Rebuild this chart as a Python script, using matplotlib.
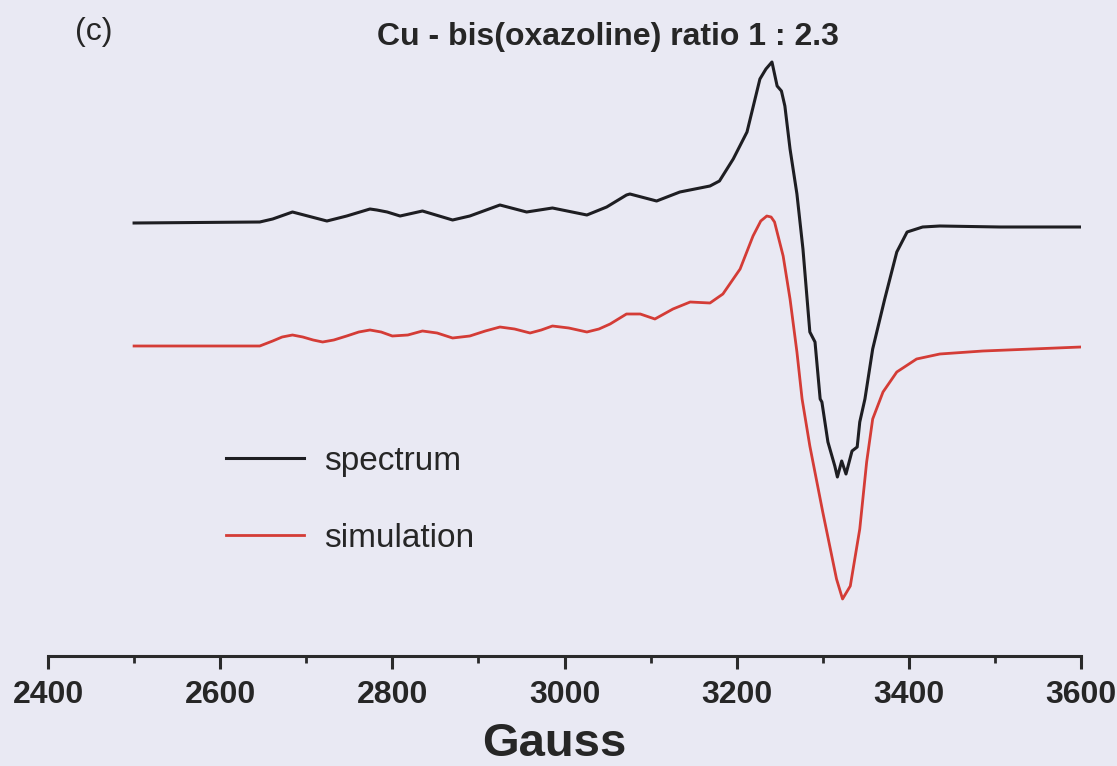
import matplotlib
matplotlib.use("Agg")
import matplotlib.pyplot as plt
from matplotlib.ticker import MultipleLocator

plt.rcParams['font.family'] = ['Liberation Sans', 'DejaVu Sans']

# EPR first-derivative traces, field in Gauss, intensity in arbitrary units
spectrum_field = [2500, 2646, 2661, 2684, 2724, 2747, 2774, 2782, 2794, 2809,
                  2835, 2870, 2890, 2925, 2956, 2986, 3026, 3049, 3072, 3076,
                  3107, 3134, 3169, 3180, 3196, 3212, 3227, 3234, 3241, 3247,
                  3252, 3256, 3262, 3270, 3277, 3285, 3291, 3297, 3299, 3306,
                  3314, 3317, 3322, 3327, 3334, 3340, 3343, 3349, 3358, 3372,
                  3386, 3398, 3416, 3436, 3506, 3600]
spectrum_int = [4.33, 4.34, 4.37, 4.44, 4.35, 4.40, 4.47, 4.46, 4.44, 4.40,
                4.45, 4.36, 4.40, 4.51, 4.44, 4.48, 4.41, 4.49, 4.61, 4.62,
                4.55, 4.64, 4.70, 4.75, 4.97, 5.24, 5.77, 5.87, 5.94, 5.70,
                5.65, 5.50, 5.07, 4.62, 4.07, 3.24, 3.14, 2.57, 2.54, 2.14,
                1.90, 1.79, 1.95, 1.82, 2.05, 2.09, 2.34, 2.57, 3.07, 3.57,
                4.04, 4.24, 4.29, 4.30, 4.29, 4.29]

simulation_field = [2500, 2646, 2661, 2672, 2684, 2696, 2708, 2719, 2732, 2747,
                    2761, 2774, 2787, 2800, 2818, 2835, 2852, 2870, 2890, 2908,
                    2925, 2942, 2960, 2973, 2986, 3005, 3026, 3040, 3053, 3072,
                    3088, 3105, 3126, 3146, 3169, 3184, 3204, 3219, 3228, 3235,
                    3240, 3244, 3254, 3262, 3270, 3276, 3285, 3300, 3316, 3323,
                    3332, 3343, 3351, 3358, 3370, 3386, 3409, 3436, 3486, 3600]
simulation_int = [3.10, 3.10, 3.15, 3.19, 3.21, 3.19, 3.16, 3.14, 3.16, 3.20,
                  3.24, 3.26, 3.24, 3.20, 3.21, 3.25, 3.23, 3.18, 3.20, 3.25,
                  3.29, 3.27, 3.23, 3.26, 3.30, 3.28, 3.24, 3.27, 3.32, 3.42,
                  3.42, 3.37, 3.47, 3.54, 3.53, 3.62, 3.87, 4.20, 4.35, 4.40,
                  4.39, 4.34, 4.00, 3.57, 3.04, 2.57, 2.10, 1.44, 0.77, 0.57,
                  0.70, 1.27, 1.94, 2.37, 2.64, 2.84, 2.97, 3.02, 3.05, 3.09]

bg = '#e9e9f3'
ink = '#262626'
fig = plt.figure(figsize=(11.17, 7.66), dpi=100, facecolor=bg)
ax = fig.add_axes([48 / 1117, 1 - 656 / 766, (1081 - 48) / 1117, 616 / 766])
ax.set_facecolor(bg)

ax.plot(spectrum_field, spectrum_int, color='#1e1e22', lw=2.2, label='spectrum')
ax.plot(simulation_field, simulation_int, color='#d43c36', lw=2.0, label='simulation')

ax.set_xlim(2400, 3600)
ax.set_ylim(0, 6.16)

for side in ('top', 'left', 'right'):
    ax.spines[side].set_visible(False)
ax.spines['bottom'].set_linewidth(2.2)
ax.spines['bottom'].set_color('#2a2a2a')
ax.set_yticks([])

ax.xaxis.set_major_locator(MultipleLocator(200))
ax.xaxis.set_minor_locator(MultipleLocator(100))
ax.tick_params(axis='x', which='major', direction='out', length=9, width=2.2,
               color='#2a2a2a', pad=8, labelsize=23, labelcolor=ink)
ax.tick_params(axis='x', which='minor', direction='out', length=5, width=2.0,
               color='#2a2a2a')
for lbl in ax.get_xticklabels():
    lbl.set_fontweight('bold')

leg = ax.legend(loc='upper left', bbox_to_anchor=(0.143, 0.39), frameon=False,
                fontsize=24, handlelength=2.35, handletextpad=0.6,
                labelspacing=1.38, labelcolor=ink)

fig.text(554 / 1117, 1 - 744 / 766, 'Gauss', ha='center', va='center',
         fontsize=34, fontweight='bold', color=ink)
fig.text(608 / 1117, 1 - 37 / 766, 'Cu - bis(oxazoline) ratio 1 : 2.3',
         ha='center', va='center', fontsize=23, fontweight='bold', color=ink)
fig.text(75 / 1117, 1 - 32 / 766, '(c)', ha='left', va='center',
         fontsize=23, color=ink)

fig.savefig('out.png', dpi=100, facecolor=bg)
